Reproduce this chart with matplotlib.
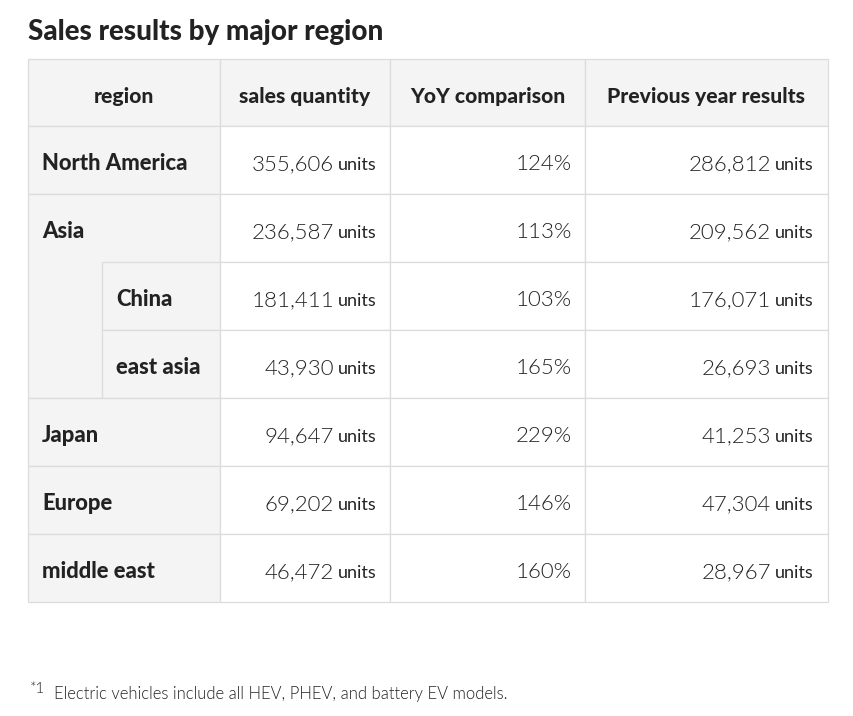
import matplotlib.pyplot as plt
from matplotlib.patches import Rectangle

# ---- data ----
title = "Sales results by major region"
headers = ["region", "sales quantity", "YoY comparison", "Previous year results"]
regions = ["North America", "Asia", "China", "east asia", "Japan", "Europe", "middle east"]
level = [0, 0, 1, 1, 0, 0, 0]          # 1 = sub-region of the row above
sales = [355606, 236587, 181411, 43930, 94647, 69202, 46472]
yoy = [124, 113, 103, 165, 229, 146, 160]
prev_year = [286812, 209562, 176071, 26693, 41253, 47304, 28967]
footnote = "Electric vehicles include all HEV, PHEV, and battery EV models."

# ---- layout (pixels) ----
W, H = 854, 716
col_x = [28, 220, 390, 585, 828]
sub_x = 102
top = 59
head_h = 67
row_h = 68
pad = 14
grey = "#f4f4f4"
line = "#dcdcdc"
ink = "#222222"
FONT = "Lato"
HEAVY = 900
LIGHT = 300

fig = plt.figure(figsize=(W / 100, H / 100), dpi=100)
ax = fig.add_axes([0, 0, 1, 1])
ax.set_xlim(0, W)
ax.set_ylim(H, 0)
ax.axis("off")
renderer = fig.canvas.get_renderer()


def cell(x0, y0, x1, y1, fc):
    ax.add_patch(Rectangle((x0, y0), x1 - x0, y1 - y0, facecolor=fc,
                           edgecolor=line, linewidth=0.9, zorder=1))


def num_units(x_right, y, number):
    u = ax.text(x_right, y + 1, "units", ha="right", va="center",
                fontsize=13, family=FONT, color=ink, zorder=3)
    bb = u.get_window_extent(renderer)
    x_left = ax.transData.inverted().transform((bb.x0, bb.y0))[0]
    ax.text(x_left - 4, y, f"{number:,}", ha="right", va="center",
            fontsize=16, family=FONT, fontweight=LIGHT, color=ink, zorder=3)


# title
ax.text(28, 32, title, ha="left", va="center", fontsize=20,
        family=FONT, fontweight=HEAVY, color=ink)

# header row
for i, h in enumerate(headers):
    cell(col_x[i], top, col_x[i + 1], top + head_h, grey)
    ax.text((col_x[i] + col_x[i + 1]) / 2, top + head_h / 2 + 4, h,
            ha="center", va="center", fontsize=15.2, family=FONT,
            fontweight=HEAVY, color=ink, zorder=3)

# body rows
y0 = top + head_h
for r, name in enumerate(regions):
    ry = y0 + r * row_h
    cy = ry + row_h / 2
    if level[r] == 0:
        span = 1
        while r + span < len(regions) and level[r + span] == 1:
            span += 1
        cell(col_x[0], ry, col_x[1], ry + span * row_h, grey)
        x_lab = col_x[0] + pad
    else:
        cell(sub_x, ry, col_x[1], ry + row_h, grey)
        x_lab = sub_x + pad
    ax.text(x_lab, cy + 4, name, ha="left", va="center",
            fontsize=15.8, family=FONT, fontweight=HEAVY, color=ink, zorder=3)

    for c in range(1, 4):
        cell(col_x[c], ry, col_x[c + 1], ry + row_h, "white")

    num_units(col_x[2] - 13, cy + 4, sales[r])
    ax.text(col_x[3] - 13, cy + 4, f"{yoy[r]}%", ha="right", va="center",
            fontsize=16, family=FONT, fontweight=LIGHT, color=ink, zorder=3)
    num_units(col_x[4] - 14, cy + 4, prev_year[r])

# footnote
ax.text(30, 689, "*1", ha="left", va="center", fontsize=11, family=FONT,
        fontweight=LIGHT, color=ink)
ax.text(54, 694, footnote, ha="left", va="center", fontsize=12,
        family=FONT, fontweight=LIGHT, color=ink)

plt.savefig("out.png", dpi=100, facecolor="white")
